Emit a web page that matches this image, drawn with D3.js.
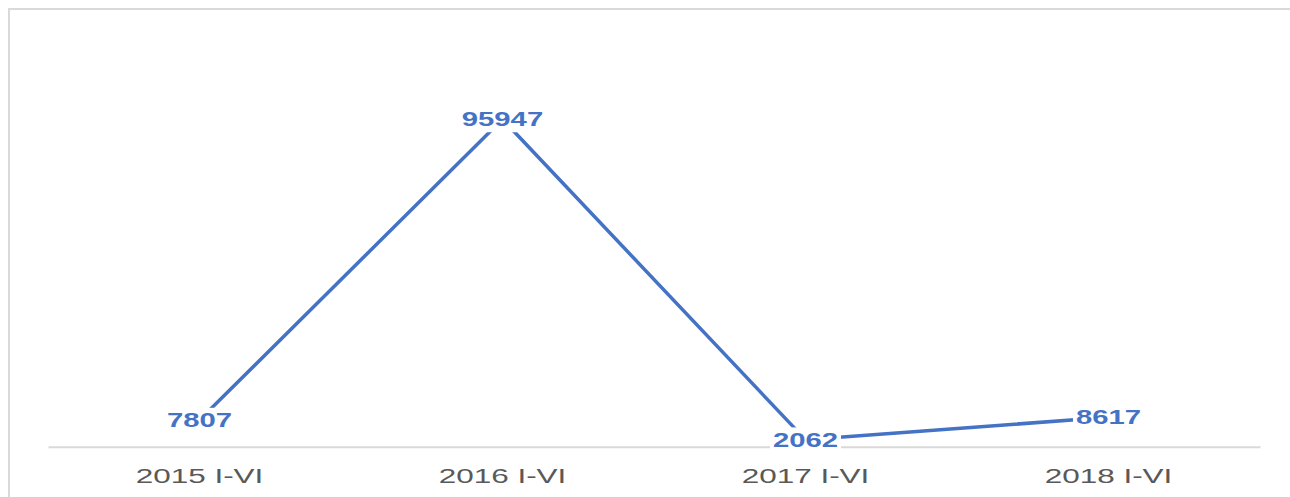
<!DOCTYPE html>
<html>
<head>
<meta charset="utf-8">
<script src="https://cdn.jsdelivr.net/npm/d3@7"></script>
<style>
  html, body { margin: 0; padding: 0; background: #fff; }
  svg { display: block; }
</style>
</head>
<body>
<svg id="chart" width="1290" height="497"></svg>
<script>
const categories = ["2015 I-VI", "2016 I-VI", "2017 I-VI", "2018 I-VI"];
const values = [7807, 95947, 2062, 8617];

const W = 1290, H = 497;
const svg = d3.select("#chart");
const lineColor = "#4472C4";
const stretch = 1.5;

// chart border (right and bottom edges fall outside the view)
svg.append("rect")
  .attr("x", 9).attr("y", 9)
  .attr("width", 1400).attr("height", 700)
  .attr("fill", "none")
  .attr("stroke", "#d9d9d9")
  .attr("stroke-width", 2);

const x = d3.scaleBand().domain(categories).range([48, 1260]).padding(0);
const y = d3.scaleLinear().domain([0, 100000]).range([446.7, 105.5]);

// category axis
const xAxis = svg.append("g").attr("transform", `translate(0,${y(0)})`)
  .call(d3.axisBottom(x).tickSize(0).tickPadding(0));
xAxis.select(".domain").attr("stroke", "#d9d9d9").attr("stroke-width", 2);
xAxis.selectAll(".tick text").remove();
xAxis.selectAll(".tick").each(function(d) {
  d3.select(this).append("text")
    .attr("transform", `translate(0,36) scale(${stretch},1)`)
    .attr("text-anchor", "middle")
    .attr("fill", "#595959")
    .style("font-family", "'Liberation Sans', Arial, sans-serif")
    .style("font-size", "21px")
    .text(d);
});

const data = categories.map((c, i) => ({ c, v: values[i] }));

// line
const line = d3.line().x(d => x(d.c) + x.bandwidth() / 2).y(d => y(d.v));
svg.append("path")
  .datum(data)
  .attr("d", line)
  .attr("fill", "none")
  .attr("stroke", lineColor)
  .attr("stroke-width", 3.5)
  .attr("stroke-linejoin", "round");

// data labels with white background boxes
const labels = svg.selectAll("g.dl").data(data).enter().append("g")
  .attr("class", "dl")
  .attr("transform", d => `translate(${x(d.c) + x.bandwidth() / 2},${y(d.v)}) scale(${stretch},1)`);
labels.append("text")
  .attr("text-anchor", "middle")
  .attr("y", 7)
  .attr("fill", lineColor)
  .style("font-family", "'Liberation Sans', Arial, sans-serif")
  .style("font-weight", "bold")
  .style("font-size", "19.5px")
  .text(d => d.v);
labels.each(function() {
  const g = d3.select(this);
  const bb = g.select("text").node().getBBox();
  g.insert("rect", "text")
    .attr("x", bb.x - 2).attr("y", bb.y - 2)
    .attr("width", bb.width + 4).attr("height", bb.height + 4)
    .attr("fill", "#fff");
});
</script>
</body>
</html>
